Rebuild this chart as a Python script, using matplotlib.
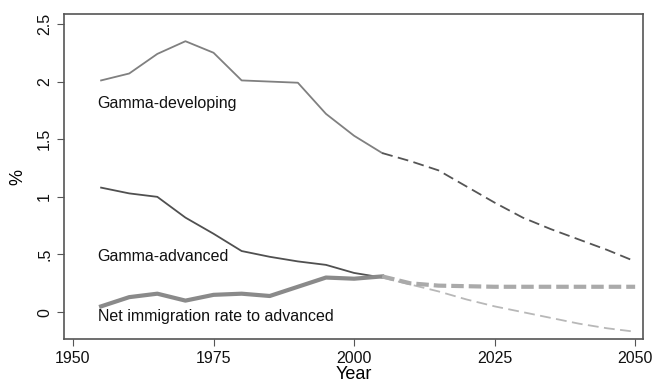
import numpy as np
import matplotlib
matplotlib.use('Agg')
import matplotlib.pyplot as plt

plt.rcParams['font.family'] = ['Liberation Sans', 'DejaVu Sans']

years_hist = [1955, 1960, 1965, 1970, 1975, 1980, 1985, 1990, 1995, 2000, 2005]
years_proj = [2005, 2010, 2015, 2020, 2025, 2030, 2035, 2040, 2045, 2050]

gamma_dev_hist = [2.01, 2.07, 2.24, 2.35, 2.25, 2.01, 2.00, 1.99, 1.72, 1.53, 1.38]
gamma_dev_proj = [1.38, 1.31, 1.23, 1.09, 0.95, 0.82, 0.72, 0.63, 0.54, 0.44]

gamma_adv_hist = [1.08, 1.03, 1.00, 0.82, 0.68, 0.53, 0.48, 0.44, 0.41, 0.34, 0.30]
gamma_adv_proj = [0.30, 0.24, 0.18, 0.11, 0.05, 0.00, -0.05, -0.10, -0.14, -0.17]

immig_hist = [0.05, 0.13, 0.16, 0.10, 0.15, 0.16, 0.14, 0.22, 0.30, 0.29, 0.31]
immig_proj = [0.31, 0.25, 0.23, 0.225, 0.22, 0.22, 0.22, 0.22, 0.22, 0.22]

fig = plt.figure(figsize=(6.66, 3.84), dpi=100)
ax = fig.add_axes([0.0961, 0.1172, 0.8694, 0.8463])

ax.plot(years_hist, gamma_dev_hist, color='#808080', lw=1.3)
ax.plot(years_proj, gamma_dev_proj, color='#555555', lw=1.3, ls=(0, (6, 3)))

ax.plot(years_hist, gamma_adv_hist, color='#505050', lw=1.3)
ax.plot(years_proj, gamma_adv_proj, color='#b8b8b8', lw=1.3, ls=(0, (6, 3)))

ax.plot(years_hist, immig_hist, color='#8a8a8a', lw=3.0)
ax.plot(years_proj, immig_proj, color='#aaaaaa', lw=3.0, ls=(0, (3, 1.2)))

ax.text(1954.4, 1.81, 'Gamma-developing', fontsize=11.5, va='center', ha='left', color='#111111')
ax.text(1954.4, 0.48, 'Gamma-advanced', fontsize=11.5, va='center', ha='left', color='#111111')
ax.text(1954.4, -0.035, 'Net immigration rate to advanced', fontsize=11.5, va='center', ha='left', color='#111111')

ax.set_xlim(1948.4, 2051.4)
ax.set_ylim(-0.233, 2.586)
ax.set_xticks([1950, 1975, 2000, 2025, 2050])
ax.set_yticks([0, 0.5, 1, 1.5, 2, 2.5])
ax.set_yticklabels(['0', '.5', '1', '1.5', '2', '2.5'], rotation=90, va='center')
ax.tick_params(labelsize=11.5, length=5, color='#555555', labelcolor='#111111')
for s in ax.spines.values():
    s.set_color('#555555')
    s.set_linewidth(1.2)

ax.set_xlabel('Year', fontsize=13, labelpad=0)
ax.set_ylabel('%', fontsize=13, labelpad=8)

fig.savefig('out.png', dpi=100)
